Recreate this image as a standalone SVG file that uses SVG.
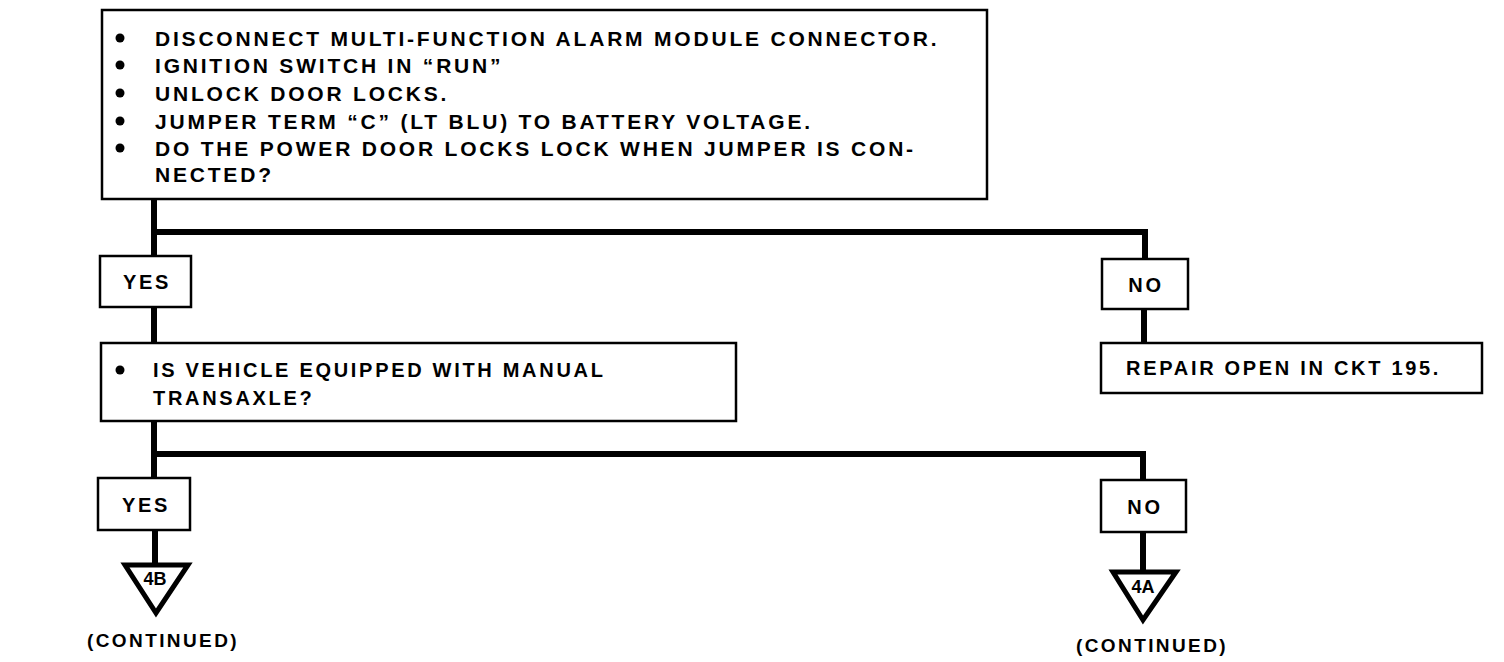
<svg xmlns="http://www.w3.org/2000/svg" width="1504" height="662" viewBox="0 0 1504 662">
<style>
  .box { fill: #fff; stroke: #000; stroke-width: 2.5; }
  .wire { fill: none; stroke: #000; stroke-width: 6; stroke-linejoin: miter; }
  .tri { fill: #fff; stroke: #000; stroke-width: 5; stroke-linejoin: miter; }
  .t { font-family: "Liberation Sans", Arial, sans-serif; font-weight: bold; font-size: 20px; letter-spacing: 2.7px; fill: #000; }
  .big { font-size: 21px; letter-spacing: 2.8px; }
  .c { text-anchor: middle; }
  .tag { font-size: 18px; letter-spacing: 0px; }
  .cont { font-size: 19px; letter-spacing: 2.4px; }
  .bul { fill: #000; }
</style>
<rect width="1504" height="662" fill="#fff"/>

<g id="connectors">
  <path class="wire" d="M154 199 V257 M154 232 H1145 V258"/>
  <path class="wire" d="M154 307 V343"/>
  <path class="wire" d="M1144 309 V342"/>
  <path class="wire" d="M154 421 V478 M154 454 H1143 V480"/>
  <path class="wire" d="M155 530 V563"/>
  <path class="wire" d="M1143 532 V570"/>
</g>

<g id="start">
  <rect class="box" x="102" y="10" width="885" height="189"/>
  <circle class="bul" cx="120" cy="38" r="4.5"/>
  <circle class="bul" cx="120" cy="65" r="4.5"/>
  <circle class="bul" cx="120" cy="93" r="4.5"/>
  <circle class="bul" cx="120" cy="121" r="4.5"/>
  <circle class="bul" cx="120" cy="148" r="4.5"/>
  <text class="t big" x="155" y="46">DISCONNECT MULTI-FUNCTION ALARM MODULE CONNECTOR.</text>
  <text class="t big" x="155" y="73">IGNITION SWITCH IN “RUN”</text>
  <text class="t big" x="155" y="101">UNLOCK DOOR LOCKS.</text>
  <text class="t big" x="155" y="129">JUMPER TERM “C” (LT BLU) TO BATTERY VOLTAGE.</text>
  <text class="t big" x="155" y="156">DO THE POWER DOOR LOCKS LOCK WHEN JUMPER IS CON-</text>
  <text class="t big" x="155" y="182">NECTED?</text>
</g>

<g id="yes1">
  <rect class="box" x="100" y="256" width="91" height="51"/>
  <text class="t c" x="147" y="289">YES</text>
</g>

<g id="no1">
  <rect class="box" x="1102" y="259" width="86" height="50"/>
  <text class="t c" x="1146" y="292">NO</text>
</g>

<g id="manual">
  <rect class="box" x="101" y="343" width="635" height="78"/>
  <circle class="bul" cx="120" cy="370" r="4.5"/>
  <text class="t" x="153" y="377">IS VEHICLE EQUIPPED WITH MANUAL</text>
  <text class="t" x="153" y="405">TRANSAXLE?</text>
</g>

<g id="repair">
  <rect class="box" x="1101" y="343" width="381" height="50"/>
  <text class="t" x="1126" y="375">REPAIR OPEN IN CKT 195.</text>
</g>

<g id="yes2">
  <rect class="box" x="98" y="478" width="92" height="52"/>
  <text class="t c" x="146" y="512">YES</text>
</g>

<g id="no2">
  <rect class="box" x="1101" y="480" width="85" height="52"/>
  <text class="t c" x="1145" y="514">NO</text>
</g>

<g id="goto4b">
  <polygon class="tri" points="125,565 188,565 156,613"/>
  <text class="t tag c" x="155" y="585">4B</text>
  <text class="t cont" x="87" y="647">(CONTINUED)</text>
</g>

<g id="goto4a">
  <polygon class="tri" points="1113,572 1176,572 1143,620"/>
  <text class="t tag c" x="1143" y="593">4A</text>
  <text class="t cont" x="1076" y="652">(CONTINUED)</text>
</g>
</svg>
